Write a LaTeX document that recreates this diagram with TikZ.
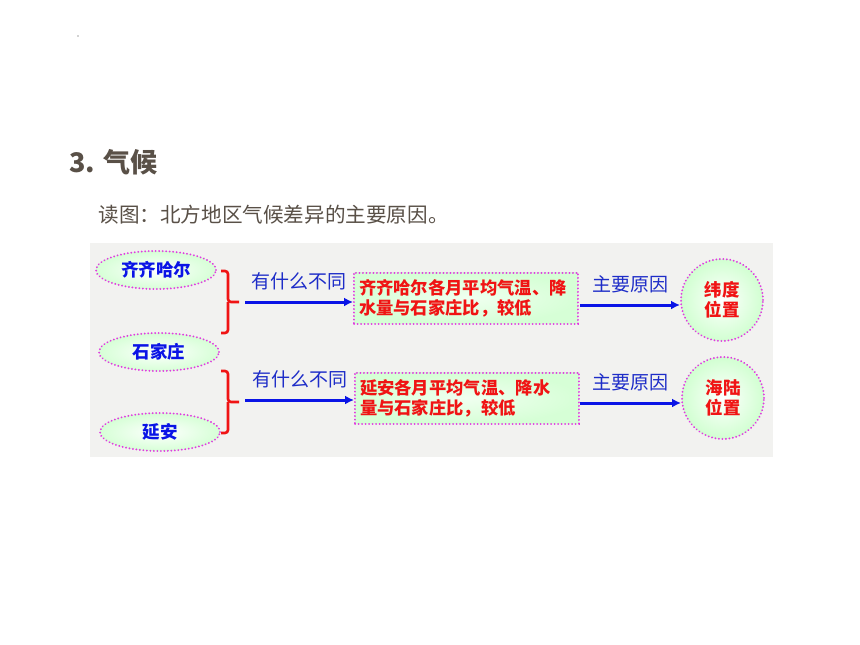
\documentclass[tikz,border=0pt]{standalone}
\usepackage{fontspec}
\newfontfamily\cjk{Noto Sans CJK SC}
\usetikzlibrary{arrows.meta,shapes.geometric,positioning,calc}
\definecolor{titlegray}{HTML}{595047}
\definecolor{panelgray}{HTML}{F2F2F0}
\definecolor{dotpink}{HTML}{E03CE0}
\definecolor{arrowblue}{HTML}{0A14E6}
\definecolor{labelblue}{HTML}{1E2DC8}
\definecolor{boxred}{HTML}{F01414}

\begin{document}
\begin{tikzpicture}[x=1pt,y=-1pt]
\tikzstyle{pinkdots} = [draw=dotpink, line width=2pt, line cap=round, dash pattern=on 0.1pt off 3.4pt]
\tikzstyle{city} = [ellipse, pinkdots, inner color=white, outer color=green!16, minimum width=120pt, minimum height=38pt, text=arrowblue, font=\cjk\bfseries\fontsize{17.5}{19}\selectfont]
\tikzstyle{fact} = [rectangle, pinkdots, inner color=green!6, outer color=green!16, minimum width=224pt, minimum height=51pt, text width=214pt, align=left, text=boxred, font=\cjk\bfseries\fontsize{17.3}{20}\selectfont]
\tikzstyle{reason} = [circle, pinkdots, inner color=white, outer color=green!18, minimum size=82pt, align=center, text=boxred, font=\cjk\bfseries\fontsize{17.5}{20}\selectfont]
\tikzstyle{flow} = [arrowblue, line width=3pt, -{Latex[length=9pt,width=9pt]}]
\tikzstyle{brace} = [boxred, line width=2.6pt, rounded corners=3pt]
\tikzstyle{ask} = [above=7pt, text=labelblue, font=\cjk\fontsize{19}{21}\selectfont]

\useasboundingbox (0,0) rectangle (860,645);
\fill[white] (0,0) rectangle (860,645);
\fill[gray!70] (78,36) circle (0.8);

\node[anchor=west, text=titlegray, font=\cjk\bfseries\fontsize{27}{30}\selectfont] (title) at (66,162) {3. 气候};
\node[anchor=west, text=titlegray, font=\cjk\fontsize{20.6}{23}\selectfont] (sub) at (95,215) {读图：北方地区气候差异的主要原因。};

\fill[panelgray] (90,243) rectangle (773,457);

\node[city] (qqhr) at (156,270) {齐齐哈尔};
\node[city] (sjz) at (159,352) {石家庄};
\node[city] (ya) at (160,432) {延安};

\node[fact] (boxA) at (466,298) {齐齐哈尔各月平均气温、降\\水量与石家庄比，较低};
\node[fact] (boxB) at (467,398) {延安各月平均气温、降水\\量与石家庄比，较低};

\node[reason] (reasonA) at (722,300) {纬度\\位置};
\node[reason] (reasonB) at (723,398) {海陆\\位置};

% braces
\draw[brace] (221,271) -| (228,302) -- (239,302);
\draw[brace] (228,302) |- (221,333);
\draw[brace] (221,371) -| (228,402) -- (239,402);
\draw[brace] (228,402) |- (221,433);

\coordinate (tipA) at (245,302);
\coordinate (tipB) at (245,400);
\coordinate (causeA) at (580,305);
\coordinate (causeB) at (580,403);

\draw[flow] (tipA) -- (tipA -| boxA.west) node[ask, midway] {有什么不同};
\draw[flow] (tipB) -- (tipB -| boxB.west) node[ask, midway] {有什么不同};
\draw[flow] (causeA) -- (causeA -| reasonA.west) node[ask, midway] {主要原因};
\draw[flow] (causeB) -- (causeB -| reasonB.west) node[ask, midway] {主要原因};
\end{tikzpicture}
\end{document}
